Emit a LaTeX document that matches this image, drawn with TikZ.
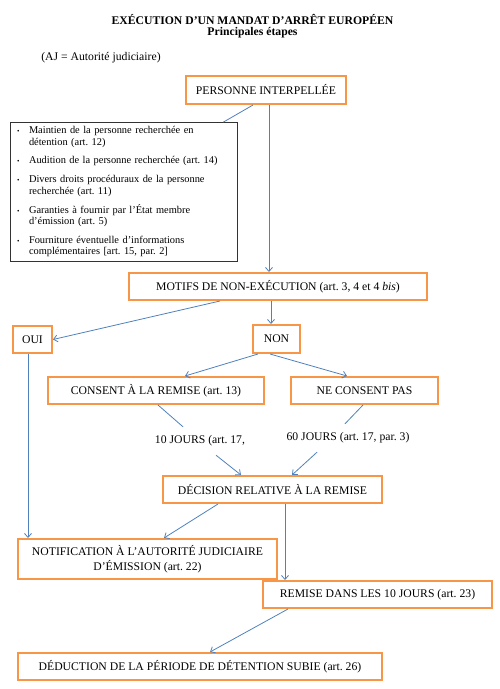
\documentclass[tikz,border=0pt]{standalone}
\usepackage{fontspec}
\setmainfont{Liberation Serif}
\usetikzlibrary{arrows.meta}
\definecolor{boxorange}{HTML}{F79646}
\definecolor{linkblue}{HTML}{4F81BD}
\newcommand{\blt}{\makebox[12pt][l]{\scriptsize\textbullet}}
\newcommand{\hng}{\hspace*{12pt}}
\frenchspacing
\begin{document}
\begin{tikzpicture}[x=1pt,y=-1pt,
  box/.style={draw=boxorange, line width=2pt, inner sep=0pt,
    font=\fontsize{11.7}{14.8}\selectfont, align=center},
  listbox/.style={draw=black!80, line width=0.8pt, inner xsep=7pt, inner ysep=0pt,
    text width=213pt, minimum height=138.5pt, align=left,
    font=\fontsize{10.4}{11.5}\selectfont},
  lbl/.style={font=\fontsize{11.7}{14}\selectfont, inner sep=0pt, minimum height=28pt},
  link/.style={draw=linkblue, line width=0.8pt},
  arr/.style={link, -{Straight Barb[length=4pt,width=7pt]}}]
  \useasboundingbox (0,0) rectangle (500,689);
  % title
  \node[font=\fontsize{11.7}{14}\selectfont\bfseries] (title) at (252.5,19.5)
    {EXÉCUTION D'UN MANDAT D'ARRÊT EUROPÉEN};
  \node[font=\fontsize{11.7}{14}\selectfont\bfseries] (sub) at (252.5,33) {Principales étapes};
  \node[font=\fontsize{11.7}{14}\selectfont] (aj) at (101,58) {(AJ = Autorité judiciaire)};
  % boxes
  \node[box, minimum width=160pt, minimum height=28pt] (pers) at (266,90) {PERSONNE INTERPELLÉE};
  \node[listbox] (list) at (123.5,191.75) {%
    \blt Maintien de la personne recherchée en\\
    \hng détention (art. 12)\\[7.3pt]
    \blt Audition de la personne recherchée (art. 14)\\[7.3pt]
    \blt Divers droits procéduraux de la personne\\
    \hng recherchée (art. 11)\\[7.3pt]
    \blt Garanties à fournir par l’État membre\\
    \hng d’émission (art. 5)\\[7.3pt]
    \blt Fourniture éventuelle d’informations\\
    \hng complémentaires [art. 15, par. 2]};
  \node[box, minimum width=298pt, minimum height=27pt] (motifs) at (278,286.5)
    {MOTIFS DE NON-EXÉCUTION (art. 3, 4 et 4 \textit{bis})};
  \node[box, minimum width=39pt, minimum height=27pt] (oui) at (32.5,339.5) {OUI};
  \node[box, minimum width=47pt, minimum height=28pt] (non) at (276.5,339) {NON};
  \node[box, minimum width=216pt, minimum height=27pt] (cons) at (156,390.5)
    {CONSENT À LA REMISE (art. 13)};
  \node[box, minimum width=147pt, minimum height=27pt] (ncons) at (364.5,390.5) {NE CONSENT PAS};
  \node[lbl] (j10) at (200,441) {10 JOURS (art. 17,};
  \node[lbl] (j60) at (348,438) {60 JOURS (art. 17, par. 3)};
  \node[box, minimum width=219pt, minimum height=27pt] (dec) at (272.5,489.5)
    {DÉCISION RELATIVE À LA REMISE};
  \node[box, minimum width=259pt, minimum height=40pt] (notif) at (147.5,559)
    {NOTIFICATION À L’AUTORITÉ JUDICIAIRE\\ D’ÉMISSION (art. 22)};
  \node[box, minimum width=229pt, minimum height=27pt] (rem) at (377.5,594.5)
    {REMISE DANS LES 10 JOURS (art. 23)};
  \node[box, minimum width=364pt, minimum height=27pt] (ded) at (200,666.5)
    {DÉDUCTION DE LA PÉRIODE DE DÉTENTION SUBIE (art. 26)};
  % connectors
  \draw[link] ([xshift=-13pt]pers.south) -- ([xshift=-14pt]list.north east);
  \draw[arr] ([xshift=3pt]pers.south) -- ([xshift=3pt]pers.south |- motifs.north);
  \draw[arr] ([xshift=-58pt]motifs.south) -- (oui.east);
  \draw[arr] ([xshift=-7pt]motifs.south) -- ([xshift=-7pt]motifs.south |- non.north);
  \draw[arr] ([xshift=-18.5pt]non.south) -- ([xshift=29pt]cons.north);
  \draw[arr] ([xshift=-6.5pt]non.south) -- ([xshift=-17.5pt]ncons.north);
  \draw[link] ([xshift=2pt]cons.south) -- ([xshift=-17pt]j10.north);
  \draw[link] ([xshift=-1.5pt]ncons.south) -- ([xshift=-3pt]j60.north);
  \draw[arr] ([xshift=16pt]j10.south) -- ([xshift=-31.5pt]dec.north);
  \draw[arr] ([xshift=-31pt]j60.south) -- ([xshift=19.5pt]dec.north);
  \draw[arr] ([xshift=-4.5pt]oui.south) -- ([xshift=-4.5pt]oui.south |- notif.north);
  \draw[arr] ([xshift=-54.5pt]dec.south) -- ([xshift=16.5pt]notif.north);
  \draw[arr] ([xshift=12.5pt]dec.south) -- ([xshift=12.5pt]dec.south |- rem.north);
  \draw[arr] ([xshift=-89.5pt]rem.south) -- ([xshift=10pt]ded.north);
\end{tikzpicture}
\end{document}
